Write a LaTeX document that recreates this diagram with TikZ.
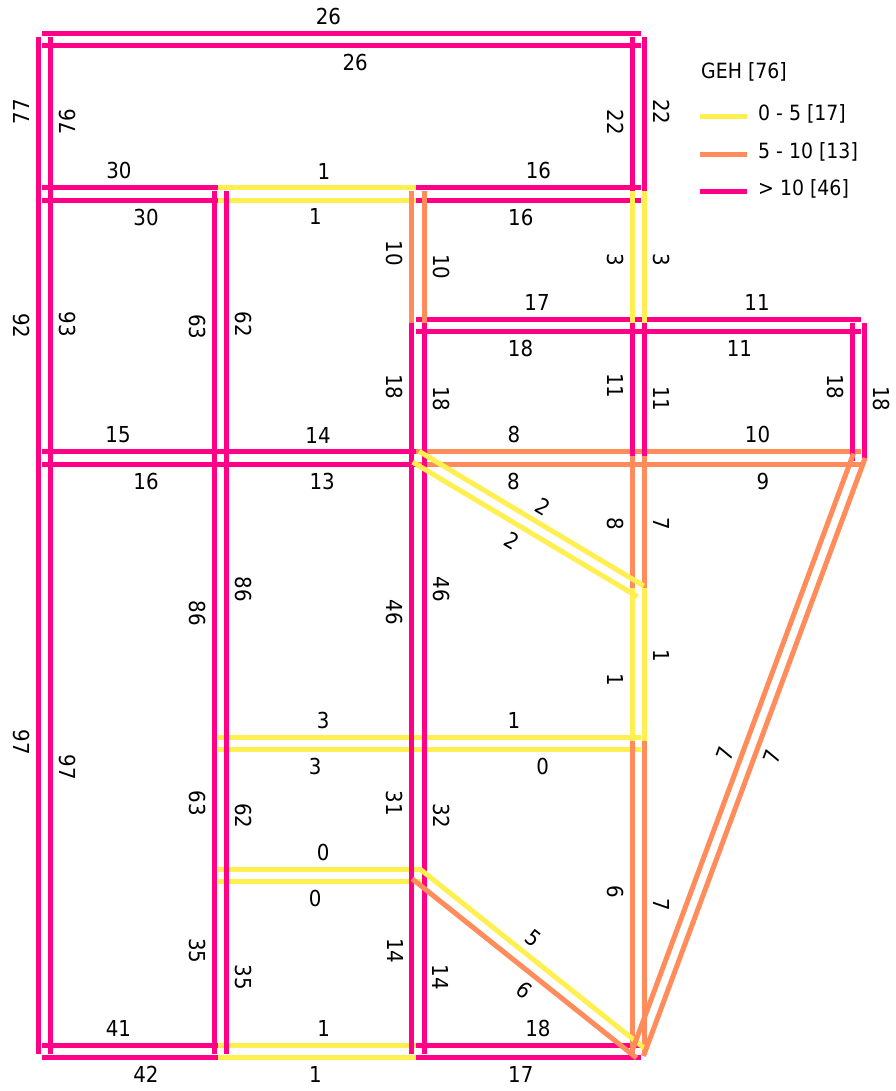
\documentclass[tikz,border=0pt]{standalone}
\usepackage{fontspec}
\setmainfont{DejaVu Sans}[FakeStretch=0.9]
\usetikzlibrary{calc}
\definecolor{gehyellow}{RGB}{255,239,80}
\definecolor{gehorange}{RGB}{255,140,90}
\definecolor{gehpink}{RGB}{255,0,135}
\tikzset{
  link/.style={line width=5pt, line cap=rect},
  lowgeh/.style={link, draw=gehyellow},
  midgeh/.style={link, draw=gehorange},
  highgeh/.style={link, draw=gehpink},
  offN/.style={transform canvas={yshift=6.25pt}},
  offS/.style={transform canvas={yshift=-6.25pt}},
  offW/.style={transform canvas={xshift=-6.25pt}},
  offE/.style={transform canvas={xshift=6.25pt}},
  val/.style={font=\fontsize{22}{26}\selectfont, inner sep=0pt, sloped},
  valup/.style={val, above=6pt},
  valdn/.style={val, below=6pt},
  legtext/.style={font=\fontsize{21}{25}\selectfont, inner sep=0pt, anchor=base west}
}

\begin{document}
\begin{tikzpicture}[x=1pt, y=-1pt]
  \useasboundingbox[fill=white] (0,0) rectangle (895,1091);

  % junctions
  \coordinate (a1) at (44.5,39.5);
  \coordinate (d1) at (638.5,39.5);
  \coordinate (a2) at (44.5,194);
  \coordinate (b2) at (220.5,194);
  \coordinate (c2) at (418,194);
  \coordinate (d2) at (638.5,194);
  \coordinate (c3) at (418,325.5);
  \coordinate (d3) at (638.5,325.5);
  \coordinate (e3) at (858.5,325.5);
  \coordinate (a4) at (44.5,458);
  \coordinate (b4) at (220.5,458);
  \coordinate (c4) at (418,458);
  \coordinate (d4) at (638.5,458);
  \coordinate (e4) at (858.5,458);
  \coordinate (dm) at (638.5,590);
  \coordinate (b5) at (220.5,743.5);
  \coordinate (c5) at (418,743.5);
  \coordinate (d5) at (638.5,743.5);
  \coordinate (b6) at (220.5,875.5);
  \coordinate (c6) at (418,875.5);
  \coordinate (a7) at (44.5,1051.5);
  \coordinate (b7) at (220.5,1051.5);
  \coordinate (c7) at (418,1051.5);
  \coordinate (d7) at (638.5,1051.5);

  % east-west links
  \draw[highgeh, offN] (a1) -- node[valup, pos=.478] {26} (d1);
  \draw[highgeh, offS] (a1) -- node[valdn, pos=.523] {26} (d1);
  \draw[highgeh, offN] (a2) -- node[valup, pos=.423] {30} (b2);
  \draw[highgeh, offS] (a2) -- node[valdn, pos=.577] {30} (b2);
  \draw[lowgeh, offN] (b2) -- node[valup, pos=.524] {1} (c2);
  \draw[lowgeh, offS] (b2) -- node[valdn, pos=.481] {1} (c2);
  \draw[highgeh, offN] (c2) -- node[valup, pos=.546] {16} (d2);
  \draw[highgeh, offS] (c2) -- node[valdn, pos=.466] {16} (d2);
  \draw[highgeh, offN] (c3) -- node[valup, pos=.54] {17} (d3);
  \draw[highgeh, offS] (c3) -- node[valdn, pos=.465] {18} (d3);
  \draw[highgeh, offN] (d3) -- node[valup, pos=.539] {11} (e3);
  \draw[highgeh, offS] (d3) -- node[valdn, pos=.459] {11} (e3);
  \draw[highgeh, offN] (a4) -- node[valup, pos=.418] {15} (b4);
  \draw[highgeh, offS] (a4) -- node[valdn, pos=.577] {16} (b4);
  \draw[highgeh, offN] (b4) -- node[valup, pos=.494] {14} (c4);
  \draw[highgeh, offS] (b4) -- node[valdn, pos=.515] {13} (c4);
  \draw[midgeh, offN] (c4) -- node[valup, pos=.435] {8} (d4);
  \draw[midgeh, offS] (c4) -- node[valdn, pos=.433] {8} (d4);
  \draw[midgeh, offN] (d4) -- node[valup, pos=.541] {10} (e4);
  \draw[midgeh, offS] (d4) -- node[valdn, pos=.565] {9} (e4);
  \draw[lowgeh, offN] (b5) -- node[valup, pos=.52] {3} (c5);
  \draw[lowgeh, offS] (b5) -- node[valdn, pos=.479] {3} (c5);
  \draw[lowgeh, offN] (c5) -- node[valup, pos=.435] {1} (d5);
  \draw[lowgeh, offS] (c5) -- node[valdn, pos=.565] {0} (d5);
  \draw[lowgeh, offN] (b6) -- node[valup, pos=.52] {0} (c6);
  \draw[lowgeh, offS] (b6) -- node[valdn, pos=.479] {0} (c6);
  \draw[highgeh, offN] (a7) -- node[valup, pos=.42] {41} (b7);
  \draw[highgeh, offS] (a7) -- node[valdn, pos=.576] {42} (b7);
  \draw[lowgeh, offN] (b7) -- node[valup, pos=.523] {1} (c7);
  \draw[lowgeh, offS] (b7) -- node[valdn, pos=.48] {1} (c7);
  \draw[highgeh, offN] (c7) -- node[valup, pos=.544] {18} (d7);
  \draw[highgeh, offS] (c7) -- node[valdn, pos=.466] {17} (d7);

  % north-south links
  \draw[highgeh, offW] (a2) -- node[valup, pos=.533] {77} (a1);
  \draw[highgeh, offE] (a2) -- node[valdn, pos=.468] {76} (a1);
  \draw[highgeh, offW] (a2) -- node[valdn, pos=.499] {92} (a4);
  \draw[highgeh, offE] (a2) -- node[valup, pos=.493] {93} (a4);
  \draw[highgeh, offW] (a4) -- node[valdn, pos=.479] {97} (a7);
  \draw[highgeh, offE] (a4) -- node[valup, pos=.521] {97} (a7);
  \draw[highgeh, offW] (b2) -- node[valdn, pos=.503] {63} (b4);
  \draw[highgeh, offE] (b2) -- node[valup, pos=.493] {62} (b4);
  \draw[highgeh, offW] (b4) -- node[valdn, pos=.544] {86} (b5);
  \draw[highgeh, offE] (b4) -- node[valup, pos=.459] {86} (b5);
  \draw[highgeh, offW] (b5) -- node[valdn, pos=.454] {63} (b6);
  \draw[highgeh, offE] (b5) -- node[valup, pos=.548] {62} (b6);
  \draw[highgeh, offW] (b6) -- node[valdn, pos=.428] {35} (b7);
  \draw[highgeh, offE] (b6) -- node[valup, pos=.58] {35} (b7);
  \draw[midgeh, offW] (c2) -- node[valdn, pos=.451] {10} (c3);
  \draw[midgeh, offE] (c2) -- node[valup, pos=.553] {10} (c3);
  \draw[highgeh, offW] (c3) -- node[valdn, pos=.462] {18} (c4);
  \draw[highgeh, offE] (c3) -- node[valup, pos=.552] {18} (c4);
  \draw[highgeh, offW] (c4) -- node[valdn, pos=.54] {46} (c5);
  \draw[highgeh, offE] (c4) -- node[valup, pos=.46] {46} (c5);
  \draw[highgeh, offW] (c5) -- node[valdn, pos=.454] {31} (c6);
  \draw[highgeh, offE] (c5) -- node[valup, pos=.548] {32} (c6);
  \draw[highgeh, offW] (c6) -- node[valdn, pos=.428] {14} (c7);
  \draw[highgeh, offE] (c6) -- node[valup, pos=.58] {14} (c7);
  \draw[highgeh, offW] (d1) -- node[valdn, pos=.537] {22} (d2);
  \draw[highgeh, offE] (d1) -- node[valup, pos=.468] {22} (d2);
  \draw[lowgeh, offW] (d2) -- node[valdn, pos=.5] {3} (d3);
  \draw[lowgeh, offE] (d2) -- node[valup, pos=.5] {3} (d3);
  \draw[highgeh, offW] (d3) -- node[valdn, pos=.454] {11} (d4);
  \draw[highgeh, offE] (d3) -- node[valup, pos=.552] {11} (d4);
  \draw[midgeh, offW] (d4) -- node[valdn, pos=.5] {8} (dm);
  \draw[midgeh, offE] (d4) -- node[valup, pos=.5] {7} (dm);
  \draw[lowgeh, offW] (dm) -- node[valdn, pos=.586] {1} (d5);
  \draw[lowgeh, offE] (dm) -- node[valup, pos=.43] {1} (d5);
  \draw[midgeh, offW] (d5) -- node[valdn, pos=.481] {6} (d7);
  \draw[midgeh, offE] (d5) -- node[valup, pos=.524] {7} (d7);
  \draw[highgeh, offW] (e3) -- node[valdn, pos=.462] {18} (e4);
  \draw[highgeh, offE] (e3) -- node[valup, pos=.552] {18} (e4);

  % diagonal links
  \draw[lowgeh, transform canvas={shift={(3.21pt,5.36pt)}}] (c4) -- node[valup, pos=.515] {2} (dm);
  \draw[lowgeh, transform canvas={shift={(-3.21pt,-5.36pt)}}] (c4) -- node[valdn, pos=.48] {2} (dm);
  \draw[midgeh, transform canvas={shift={(-3.9pt,-4.88pt)}}] (c6) -- node[valdn, pos=.548] {6} (d7);
  \draw[lowgeh, transform canvas={shift={(3.9pt,4.88pt)}}] (c6) -- node[valup, pos=.456] {5} (d7);
  \draw[midgeh, transform canvas={shift={(-5.86pt,2.17pt)}}] (d7) -- node[valup, pos=.489] {7} (e4);
  \draw[midgeh, transform canvas={shift={(5.86pt,-2.17pt)}}] (d7) -- node[valdn, pos=.51] {7} (e4);

  % legend
  \node[legtext] (legtitle) at (701,78.5) {GEH [76]};
  \coordinate (k1a) at (700,116.7);
  \coordinate (k1b) at (747,116.7);
  \coordinate (k2a) at (700,154.3);
  \coordinate (k2b) at (747,154.3);
  \coordinate (k3a) at (700,191.7);
  \coordinate (k3b) at (747,191.7);
  \draw[lowgeh, line cap=butt] (k1a) -- (k1b);
  \draw[midgeh, line cap=butt] (k2a) -- (k2b);
  \draw[highgeh, line cap=butt] (k3a) -- (k3b);
  \node[legtext] (k1t) at ($(k1b)+(11,4)$) {0 - 5 [17]};
  \node[legtext] (k2t) at ($(k2b)+(11,4)$) {5 - 10 [13]};
  \node[legtext] (k3t) at ($(k3b)+(11,4)$) {> 10 [46]};
\end{tikzpicture}
\end{document}
